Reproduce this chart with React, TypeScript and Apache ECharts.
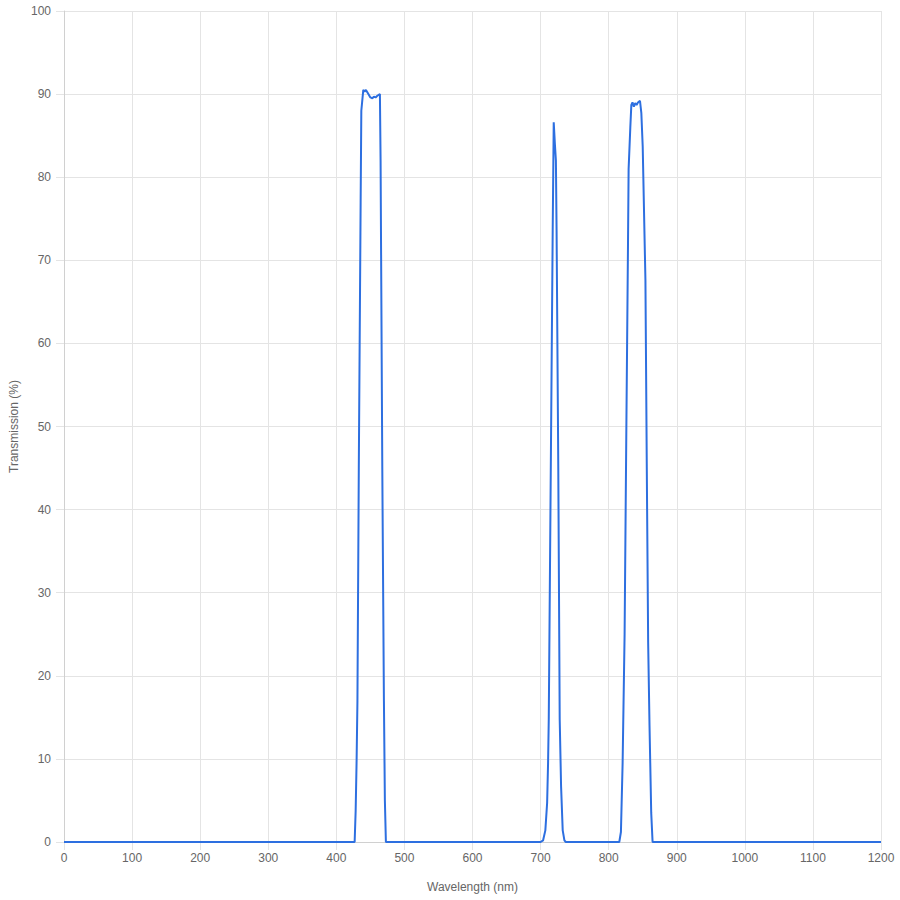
import React, { useEffect, useRef } from "react";
import * as echarts from "echarts";

const wavelengths: number[] = [
  0, 425, 426.9, 428.4, 429.8, 431, 433, 435.7, 436.7, 439.6, 441.6, 443.5, 446.4, 450, 452.9, 455.2, 457.7,
  460.2, 464, 465, 467.5, 469.9, 471.3, 472.8,
  700, 703.7, 707, 709.6, 711, 712, 715, 717.8, 719.3, 721, 722.5, 723.5, 726, 728.1, 730.1, 732.5, 735, 737,
  812, 815.6, 818, 820.5, 823.4, 826, 828.4, 829.3, 831.8, 833.3, 835, 837, 839, 841, 843, 846, 848, 850, 854,
  856, 858, 860, 862.5, 864.5,
  1200,
];
const transmission: number[] = [
  0, 0, 0, 3.8, 9.9, 17, 45, 77, 88, 90.5, 90.3, 90.5, 90.1, 89.6, 89.5, 89.7, 89.6,
  89.8, 90, 82, 45, 17, 5, 0,
  0, 0.2, 1.4, 4.7, 9.5, 14.7, 45, 73.6, 86.6, 84, 82, 73.6, 45, 14.7, 6.7, 1.4, 0.2, 0,
  0, 0, 1.2, 9.5, 25, 50, 72, 81, 86, 88.7, 89, 88.5, 88.9, 88.7, 89, 89.2, 87.7, 83.7, 67.6,
  45, 24, 14, 3.5, 0,
  0,
];
const xTitle = "Wavelength (nm)";
const yTitle = "Transmission (%)";

export default function App() {
  const ref = useRef<HTMLDivElement>(null);
  useEffect(() => {
    if (!ref.current) return;
    const chart = echarts.init(ref.current, null, { renderer: "svg" });
    const font = "'Helvetica Neue', Helvetica, Arial, sans-serif";
    const gridColor = "#e4e4e4";
    chart.setOption({
      animation: false,
      textStyle: { fontFamily: font },
      grid: { left: 61, right: 19, top: 11, bottom: 58, containLabel: false },
      xAxis: {
        type: "value",
        min: 0,
        max: 1200,
        interval: 100,
        name: xTitle,
        nameLocation: "middle",
        nameGap: 39,
        nameTextStyle: { color: "#666", fontSize: 12, fontFamily: font },
        axisLine: { show: true, lineStyle: { color: "#d0d0d0", width: 1 } },
        axisTick: { show: true, length: 8, lineStyle: { color: gridColor } },
        axisLabel: {
          color: "#666",
          fontSize: 12,
          margin: 10,
          fontFamily: font,
          formatter: (v: number) => String(v),
        },
        splitLine: { show: true, lineStyle: { color: gridColor, width: 1 } },
      },
      yAxis: {
        type: "value",
        min: 0,
        max: 100,
        interval: 10,
        name: yTitle,
        nameLocation: "middle",
        nameGap: 44,
        nameTextStyle: { color: "#666", fontSize: 12, fontFamily: font },
        axisLine: { show: true, lineStyle: { color: "#d0d0d0", width: 1 } },
        axisTick: { show: true, length: 8, lineStyle: { color: gridColor } },
        axisLabel: { color: "#666", fontSize: 12, margin: 13, fontFamily: font },
        splitLine: { show: true, lineStyle: { color: gridColor, width: 1 } },
      },
      series: [
        {
          type: "line",
          data: wavelengths.map((w, i) => [w, transmission[i]]),
          showSymbol: false,
          symbol: "none",
          lineStyle: { color: "#2d6fe0", width: 2 },
          itemStyle: { color: "#2d6fe0" },
        },
      ],
    });
    return () => chart.dispose();
  }, []);
  return (
    <div
      ref={ref}
      style={{ position: "fixed", left: 0, top: 0, width: 900, height: 900, background: "#fff" }}
    />
  );
}
